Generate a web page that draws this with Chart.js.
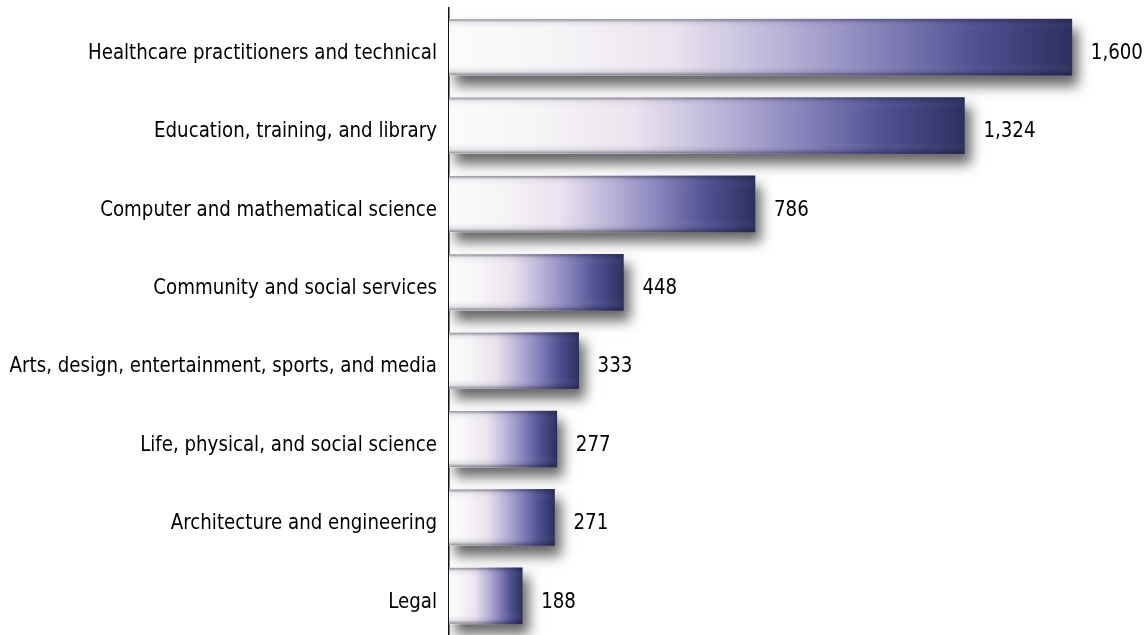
<!DOCTYPE html>
<html>
<head>
<meta charset="utf-8">
<title>Occupations</title>
<script src="https://cdn.jsdelivr.net/npm/chart.js@4/dist/chart.umd.min.js"></script>
<style>
    html, body { margin: 0; padding: 0; background: #fff; }
    #wrap { width: 1145px; height: 635px; position: relative; }
</style>
</head>
<body>
<div id="wrap"><canvas id="occ-chart"></canvas></div>
<script>
/* ===== DATA ===== */
const categories = [
    'Healthcare practitioners and technical',
    'Education, training, and library',
    'Computer and mathematical science',
    'Community and social services',
    'Arts, design, entertainment, sports, and media',
    'Life, physical, and social science',
    'Architecture and engineering',
    'Legal'
];
const values = [1600, 1324, 786, 448, 333, 277, 271, 188];

const FONT = '"DejaVu Sans Condensed", "Liberation Sans Narrow", sans-serif';
const SQUEEZE = 0.92; // narrow the glyphs a bit, like a condensed face

// per-bar horizontal gradient: white -> lavender -> navy
function barGradient(ctx) {
    const chart = ctx.chart;
    if (!chart.chartArea || ctx.raw == null) return '#8a86bb';
    const xs = chart.scales.x;
    const x0 = xs.getPixelForValue(0);
    const x1 = xs.getPixelForValue(ctx.raw);
    const g = chart.ctx.createLinearGradient(x0, 0, x1, 0);
    g.addColorStop(0, '#fbfbfc');
    g.addColorStop(0.18, '#f6f4f7');
    g.addColorStop(0.36, '#ebe3ef');
    g.addColorStop(0.52, '#bcb7da');
    g.addColorStop(0.68, '#8a85bd');
    g.addColorStop(0.84, '#505293');
    g.addColorStop(1, '#2b3060');
    return g;
}

// text drawn with a horizontal squeeze
function squeezedText(c, text, x, y, align) {
    c.save();
    c.translate(x, y);
    c.scale(SQUEEZE, 1);
    c.textAlign = align;
    c.fillText(text, 0, 0);
    c.restore();
}

/* ===== PLUGINS ===== */
const barEffects = {
    id: 'barEffects',
    beforeDatasetDraw(chart) {
        const c = chart.ctx;
        c.save();
        c.shadowColor = 'rgba(0, 0, 0, 0.6)';
        c.shadowBlur = 12;
        c.shadowOffsetX = 6;
        c.shadowOffsetY = 10;
    },
    afterDatasetDraw(chart, args) {
        const c = chart.ctx;
        c.restore();
        // bevel shading on top and bottom edges
        args.meta.data.forEach(bar => {
            const { x, y, base, height } = bar.getProps(['x', 'y', 'base', 'height'], true);
            const top = y - height / 2;
            const g = c.createLinearGradient(0, top, 0, top + height);
            g.addColorStop(0, 'rgba(40, 40, 60, 0.5)');
            g.addColorStop(0.06, 'rgba(40, 40, 60, 0.08)');
            g.addColorStop(0.2, 'rgba(255, 255, 255, 0)');
            g.addColorStop(0.8, 'rgba(255, 255, 255, 0)');
            g.addColorStop(0.94, 'rgba(30, 30, 50, 0.12)');
            g.addColorStop(1, 'rgba(30, 30, 50, 0.5)');
            c.save();
            c.fillStyle = g;
            c.fillRect(base, top, x - base, height);
            c.restore();
        });
    },
    afterDatasetsDraw(chart) {
        const c = chart.ctx;
        const meta = chart.getDatasetMeta(0);
        const left = chart.chartArea.left;
        c.save();
        c.font = '22px ' + FONT;
        c.fillStyle = '#000';
        c.textBaseline = 'middle';
        meta.data.forEach((bar, i) => {
            // value at bar end
            squeezedText(c, values[i].toLocaleString('en-US'), bar.x + 19, bar.y + 6, 'left');
            // category label left of axis
            squeezedText(c, categories[i], left - 12, bar.y + 6, 'right');
        });
        c.restore();
    }
};

/* ===== CHART ===== */
new Chart(document.getElementById('occ-chart'), {
    type: 'bar',
    data: {
        labels: categories,
        datasets: [{
            data: values,
            backgroundColor: barGradient,
            borderWidth: 0,
            barThickness: 56
        }]
    },
    options: {
        indexAxis: 'y',
        responsive: true,
        maintainAspectRatio: false,
        animation: false,
        layout: { padding: { top: 8, right: 0, bottom: 0, left: 0 } },
        plugins: {
            legend: { display: false },
            tooltip: { enabled: false }
        },
        scales: {
            x: {
                display: false,
                min: 0,
                max: 1788
            },
            y: {
                afterFit(scale) { scale.width = 449; },
                grid: { display: false, drawTicks: false },
                border: { display: true, color: '#111', width: 1.5 },
                ticks: { display: false }
            }
        }
    },
    plugins: [barEffects]
});
</script>
</body>
</html>
